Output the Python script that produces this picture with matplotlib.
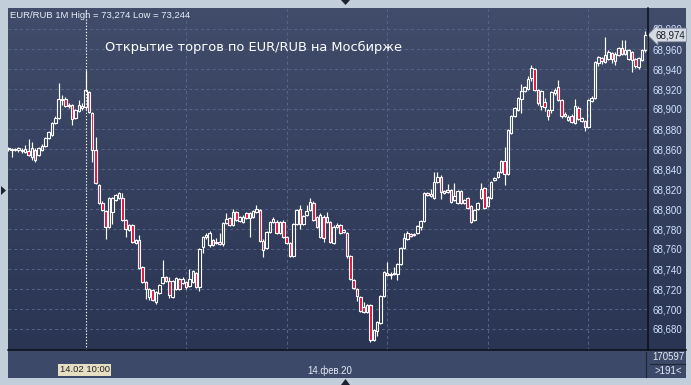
import numpy as np
import pandas as pd
import matplotlib
matplotlib.use("Agg")
import matplotlib.pyplot as plt
from matplotlib.patches import Rectangle, Polygon
from matplotlib.lines import Line2D

W, H = 691, 385

# ---------------- data ----------------
first_bar = "2020-02-14 09:37"
ref_time = "2020-02-14 10:00"

opens = [
    68.861, 68.860, 68.859, 68.859, 68.858, 68.857, 68.858, 68.852, 68.859, 68.854,
    68.859, 68.863, 68.871, 68.874, 68.886, 68.891, 68.910, 68.910, 68.903, 68.904,
    68.891, 68.898, 68.901, 68.902, 68.917, 68.896, 68.859, 68.824, 68.806, 68.798,
    68.782, 68.797, 68.809, 68.811, 68.811, 68.789, 68.779, 68.784, 68.766, 68.769,
    68.742, 68.727, 68.712, 68.719, 68.707, 68.716, 68.726, 68.732, 68.728, 68.712,
    68.720, 68.730, 68.726, 68.727, 68.723, 68.727, 68.736, 68.722, 68.762, 68.772,
    68.764, 68.769, 68.766, 68.767, 68.765, 68.786, 68.791, 68.784, 68.797, 68.788,
    68.787, 68.796, 68.791, 68.792, 68.797, 68.799, 68.768, 68.761, 68.777, 68.787,
    68.787, 68.776, 68.787, 68.772, 68.766, 68.753, 68.785, 68.800, 68.785, 68.794,
    68.799, 68.806, 68.792, 68.772, 68.792, 68.787, 68.787, 68.766, 68.782, 68.784,
    68.777, 68.776, 68.753, 68.729, 68.720, 68.712, 68.702, 68.697, 68.704, 68.669,
    68.678, 68.686, 68.713, 68.736, 68.734, 68.735, 68.735, 68.745, 68.761, 68.770,
    68.775, 68.774, 68.776, 68.782, 68.788, 68.816, 68.813, 68.811, 68.827, 68.832,
    68.816, 68.817, 68.819, 68.809, 68.806, 68.818, 68.806, 68.811, 68.803, 68.789,
    68.800, 68.811, 68.821, 68.803, 68.811, 68.829, 68.832, 68.837, 68.848, 68.835,
    68.876, 68.893, 68.899, 68.910, 68.918, 68.920, 68.931, 68.940, 68.919, 68.903,
    68.907, 68.899, 68.899, 68.916, 68.922, 68.909, 68.893, 68.889, 68.893, 68.886,
    68.901, 68.888, 68.888, 68.882, 68.908, 68.911, 68.946, 68.951, 68.947, 68.950,
    68.956, 68.948, 68.954, 68.961, 68.955, 68.950, 68.957, 68.950, 68.942, 68.949,
    68.959,
]
highs = [
    68.862, 68.861, 68.861, 68.862, 68.861, 68.864, 68.870, 68.867, 68.861, 68.862,
    68.865, 68.872, 68.878, 68.887, 68.893, 68.926, 68.914, 68.912, 68.906, 68.905,
    68.900, 68.909, 68.906, 68.939, 68.918, 68.897, 68.872, 68.825, 68.808, 68.799,
    68.812, 68.812, 68.815, 68.817, 68.816, 68.790, 68.785, 68.785, 68.770, 68.774,
    68.743, 68.728, 68.721, 68.720, 68.718, 68.725, 68.749, 68.733, 68.732, 68.729,
    68.732, 68.731, 68.732, 68.728, 68.740, 68.739, 68.737, 68.761, 68.773, 68.776,
    68.778, 68.770, 68.771, 68.776, 68.787, 68.796, 68.792, 68.800, 68.798, 68.793,
    68.794, 68.797, 68.797, 68.799, 68.804, 68.800, 68.770, 68.778, 68.788, 68.792,
    68.789, 68.788, 68.789, 68.773, 68.767, 68.786, 68.800, 68.804, 68.794, 68.804,
    68.811, 68.808, 68.793, 68.796, 68.794, 68.797, 68.788, 68.784, 68.786, 68.785,
    68.780, 68.777, 68.754, 68.730, 68.721, 68.713, 68.707, 68.705, 68.705, 68.680,
    68.688, 68.714, 68.738, 68.747, 68.737, 68.742, 68.746, 68.762, 68.776, 68.778,
    68.776, 68.776, 68.784, 68.789, 68.817, 68.817, 68.820, 68.837, 68.837, 68.834,
    68.819, 68.825, 68.820, 68.826, 68.819, 68.819, 68.810, 68.812, 68.804, 68.800,
    68.807, 68.826, 68.822, 68.813, 68.828, 68.832, 68.838, 68.849, 68.862, 68.880,
    68.894, 68.902, 68.912, 68.925, 68.923, 68.933, 68.944, 68.941, 68.920, 68.919,
    68.911, 68.900, 68.918, 68.921, 68.929, 68.910, 68.897, 68.894, 68.895, 68.910,
    68.903, 68.892, 68.889, 68.910, 68.913, 68.948, 68.953, 68.952, 68.972, 68.959,
    68.957, 68.957, 68.962, 68.969, 68.969, 68.960, 68.958, 68.951, 68.952, 68.960,
    68.978,
]
lows = [
    68.858, 68.852, 68.858, 68.857, 68.856, 68.856, 68.853, 68.849, 68.847, 68.853,
    68.858, 68.862, 68.870, 68.873, 68.885, 68.890, 68.904, 68.902, 68.901, 68.884,
    68.890, 68.897, 68.899, 68.900, 68.896, 68.847, 68.825, 68.805, 68.798, 68.770,
    68.781, 68.785, 68.808, 68.810, 68.788, 68.772, 68.778, 68.766, 68.765, 68.740,
    68.726, 68.710, 68.709, 68.708, 68.705, 68.715, 68.725, 68.727, 68.711, 68.711,
    68.719, 68.719, 68.725, 68.720, 68.722, 68.726, 68.721, 68.718, 68.756, 68.770,
    68.762, 68.763, 68.765, 68.764, 68.763, 68.785, 68.783, 68.783, 68.788, 68.787,
    68.786, 68.790, 68.772, 68.791, 68.796, 68.767, 68.752, 68.760, 68.776, 68.786,
    68.775, 68.775, 68.771, 68.765, 68.752, 68.752, 68.784, 68.780, 68.784, 68.793,
    68.798, 68.788, 68.781, 68.771, 68.767, 68.786, 68.766, 68.765, 68.781, 68.775,
    68.776, 68.751, 68.729, 68.720, 68.708, 68.697, 68.696, 68.696, 68.667, 68.668,
    68.673, 68.685, 68.712, 68.733, 68.730, 68.734, 68.729, 68.744, 68.760, 68.769,
    68.772, 68.773, 68.775, 68.779, 68.787, 68.813, 68.812, 68.810, 68.826, 68.810,
    68.815, 68.816, 68.806, 68.808, 68.805, 68.805, 68.805, 68.800, 68.786, 68.788,
    68.799, 68.810, 68.800, 68.802, 68.810, 68.828, 68.831, 68.836, 68.824, 68.834,
    68.875, 68.892, 68.898, 68.896, 68.917, 68.919, 68.928, 68.918, 68.904, 68.899,
    68.898, 68.889, 68.896, 68.914, 68.908, 68.891, 68.892, 68.888, 68.886, 68.885,
    68.889, 68.887, 68.878, 68.881, 68.907, 68.910, 68.943, 68.945, 68.946, 68.949,
    68.946, 68.944, 68.953, 68.954, 68.954, 68.949, 68.937, 68.941, 68.940, 68.948,
    68.957,
]
closes = [
    68.860, 68.859, 68.860, 68.861, 68.859, 68.860, 68.854, 68.861, 68.849, 68.861,
    68.863, 68.871, 68.877, 68.886, 68.891, 68.910, 68.909, 68.903, 68.904, 68.890,
    68.899, 68.904, 68.903, 68.919, 68.897, 68.859, 68.826, 68.806, 68.799, 68.782,
    68.811, 68.811, 68.814, 68.816, 68.789, 68.780, 68.784, 68.767, 68.769, 68.741,
    68.727, 68.720, 68.720, 68.709, 68.717, 68.724, 68.732, 68.728, 68.714, 68.728,
    68.731, 68.720, 68.730, 68.722, 68.730, 68.738, 68.722, 68.760, 68.772, 68.774,
    68.776, 68.764, 68.767, 68.765, 68.786, 68.790, 68.784, 68.797, 68.789, 68.792,
    68.792, 68.791, 68.796, 68.798, 68.800, 68.768, 68.759, 68.777, 68.787, 68.790,
    68.776, 68.787, 68.772, 68.766, 68.753, 68.785, 68.799, 68.785, 68.793, 68.798,
    68.807, 68.789, 68.782, 68.794, 68.771, 68.792, 68.767, 68.782, 68.784, 68.776,
    68.779, 68.753, 68.730, 68.721, 68.713, 68.698, 68.697, 68.704, 68.669, 68.679,
    68.687, 68.713, 68.737, 68.734, 68.735, 68.736, 68.745, 68.761, 68.771, 68.776,
    68.773, 68.775, 68.783, 68.788, 68.816, 68.814, 68.815, 68.827, 68.832, 68.817,
    68.818, 68.819, 68.807, 68.813, 68.818, 68.806, 68.809, 68.801, 68.787, 68.799,
    68.806, 68.820, 68.801, 68.812, 68.827, 68.831, 68.837, 68.848, 68.835, 68.879,
    68.893, 68.901, 68.911, 68.918, 68.922, 68.930, 68.941, 68.919, 68.906, 68.918,
    68.902, 68.893, 68.917, 68.919, 68.909, 68.893, 68.895, 68.892, 68.887, 68.903,
    68.890, 68.891, 68.882, 68.909, 68.911, 68.947, 68.952, 68.948, 68.954, 68.957,
    68.950, 68.955, 68.961, 68.955, 68.959, 68.959, 68.949, 68.943, 68.951, 68.959,
    68.974,
]

tick_labels = ["10:00", "10:30", "11:00", "11:30", "12:00", "12:30"]
price_ticks = [68.68, 68.70, 68.72, 68.74, 68.76, 68.78, 68.80, 68.82,
               68.84, 68.86, 68.88, 68.90, 68.92, 68.94, 68.96, 68.98]
header = "EUR/RUB 1M High = 73,274 Low = 73,244"
caption = "Открытие торгов по EUR/RUB на Мосбирже"
date_label = "14.фев.20"
cursor_label = "14.02 10:00"
volume_label = "170597"
bars_label = ">191<"

# ---------------- styling ----------------
OUTER = "#c3cedb"
TOP_C = np.array([0x40, 0x4c, 0x69]) / 255
BOT_C = np.array([0x2a, 0x35, 0x53]) / 255
PANEL = "#3c4968"
GRID = "#56658a"
RED = "#e0103c"
LABEL = "#d2e2ff"
FONT = ["Liberation Sans", "DejaVu Sans"]

fig = plt.figure(figsize=(W / 100, H / 100), dpi=100)
fig.patch.set_facecolor(OUTER)


def fr(x0, y0, x1, y1):
    """pixel box (top-left origin) -> figure fraction rect"""
    return [x0 / W, 1 - y1 / H, (x1 - x0) / W, (y1 - y0) / H]


def fx(x):
    return x / W


def fy(y):
    return 1 - y / H


# gradient background for the plot + price scale
bg = fig.add_axes(fr(8, 8, 686, 350))
grad = np.linspace(0, 1, 256)[:, None, None]
img = TOP_C[None, None, :] * (1 - grad) + BOT_C[None, None, :] * grad
bg.imshow(img, aspect="auto", extent=[0, 1, 0, 1])
bg.set_axis_off()

# bottom time panel
fig.add_artist(Rectangle((fx(8), fy(378)), (686 - 8) / W, 28 / H,
                         transform=fig.transFigure, facecolor=PANEL,
                         edgecolor="none", zorder=1))

# main chart axes
ax = fig.add_axes(fr(8, 8, 648, 350))
ax.set_facecolor("none")
for s in ax.spines.values():
    s.set_visible(False)

times = pd.date_range(first_bar, periods=len(opens), freq="min")
ref = pd.Timestamp(ref_time)
x = ((times - ref).total_seconds() / 60).to_numpy()
o = np.array(opens)
h = np.array(highs)
l = np.array(lows)
c = np.array(closes)

ax.set_xlim(-23.12, 167.8)
ax.set_ylim(68.659, 69.001)

tick_pos = [(pd.Timestamp("2020-02-14 " + t) - ref).total_seconds() / 60
            for t in tick_labels]

# grid
for p in price_ticks:
    ax.axhline(p, color=GRID, lw=0.7, ls=(0, (3, 3)), zorder=1)
for t in tick_pos[1:]:
    ax.axvline(t, color=GRID, lw=0.7, ls=(0, (3, 3)), zorder=1)

# candles
up = c >= o
body_lo = np.minimum(o, c)
body_hi = np.maximum(o, c)
body_h = np.maximum(body_hi - body_lo, 0.0012)
ax.vlines(x, body_lo + body_h, h, color="white", lw=0.85, zorder=3)
ax.vlines(x, l, body_lo, color="white", lw=0.85, zorder=3)
faces = ["none" if u else RED for u in up]
ax.bar(x, body_h, bottom=body_lo, width=0.75, color=faces,
       edgecolor="white", linewidth=0.8, zorder=4)

# cursor line at 10:00
ax.axvline(tick_pos[0], color="white", lw=0.8, ls=(0, (1.2, 1.6)), zorder=5)

# axes ticks
ax.set_xticks(tick_pos)
ax.set_xticklabels(tick_labels)
ax.tick_params(axis="x", length=0, pad=3.0, colors="#e6ebf5", labelsize=6.9)
for lab in ax.get_xticklabels():
    lab.set_fontfamily(FONT)
ax.yaxis.tick_right()
ax.set_yticks(price_ticks)
ax.set_yticklabels([f"{p:.3f}".replace(".", ",") for p in price_ticks])
ax.tick_params(axis="y", length=0, pad=3.5, colors=LABEL, labelsize=7.0)
for lab in ax.get_yticklabels():
    lab.set_fontfamily(FONT)

# last price marker (drawn over the top scale label, as in the terminal)
ax.annotate(f"{closes[-1]:.3f}".replace(".", ","), xy=(1, closes[-1]),
            xycoords=("axes fraction", "data"), xytext=(7, 0),
            textcoords="offset pixels", ha="left", va="center",
            fontsize=7.0, family=FONT, color="#1a1f2a", zorder=10,
            annotation_clip=False,
            bbox=dict(boxstyle="larrow,pad=0.18", fc="#d6dae2",
                      ec="#8a96a8", lw=0.6))

# header & caption
fig.text(fx(10), fy(15), header, fontsize=6.8, family=FONT,
         color="#e8edf6", va="center", ha="left", zorder=10)
fig.text(fx(105), fy(47), caption, fontsize=9.4, family="DejaVu Sans",
         color="white", va="center", ha="left", zorder=10)

# separators
blk = "#0c0f16"
fig.add_artist(Line2D([fx(8), fx(686)], [fy(350), fy(350)], color=blk,
                      lw=1.1, transform=fig.transFigure, zorder=6))
fig.add_artist(Line2D([fx(648), fx(648)], [fy(8), fy(350)], color=blk,
                      lw=1.1, transform=fig.transFigure, zorder=6))
fig.add_artist(Line2D([fx(645.5), fx(645.5)], [fy(352), fy(377)],
                      color="#202838", lw=0.9, transform=fig.transFigure,
                      zorder=6))
fig.add_artist(Line2D([fx(650), fx(685)], [fy(363.5), fy(363.5)],
                      color="#202838", lw=0.8, transform=fig.transFigure,
                      zorder=6))

# bottom panel texts
fig.text(fx(330), fy(370.5), date_label, fontsize=6.9, family=FONT,
         color="#e6ebf5", ha="center", va="center", zorder=10)
fig.text(fx(84.5), fy(370), cursor_label, fontsize=6.8, family=FONT,
         color="#20242c", ha="center", va="center", zorder=10,
         bbox=dict(boxstyle="square,pad=0.2", fc="#e6dfc2", ec="none"))
fig.text(fx(668), fy(356.5), volume_label, fontsize=6.9, family=FONT,
         color="#e6ebf5", ha="center", va="center", zorder=10)
fig.text(fx(668), fy(370.5), bars_label, fontsize=6.9, family=FONT,
         color="#e6ebf5", ha="center", va="center", zorder=10)

# little navigation triangles
tri_c = "#1c2230"
for pts in ([(1, 186), (6, 190.5), (1, 195)],
            [(341, 0), (350, 0), (345.5, 5)],
            [(341, 385), (350, 385), (345.5, 379)]):
    fig.add_artist(Polygon([(fx(a), fy(b)) for a, b in pts], closed=True,
                           transform=fig.transFigure, facecolor=tri_c,
                           edgecolor="none", zorder=10))

fig.savefig("out.png", dpi=100, facecolor=fig.get_facecolor())
